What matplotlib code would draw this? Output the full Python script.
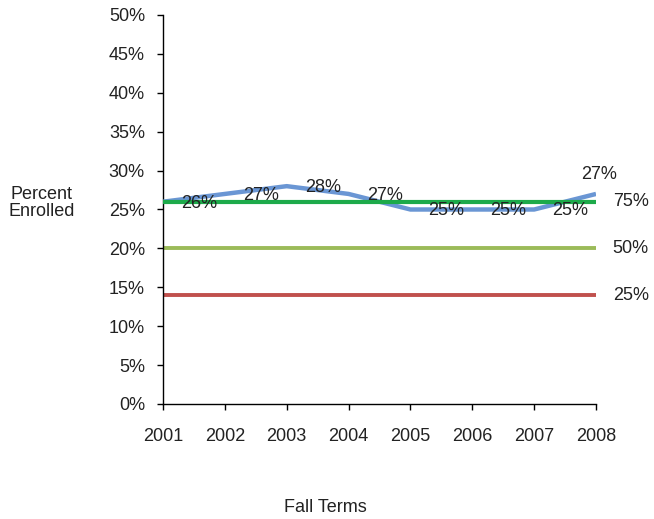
import matplotlib.pyplot as plt
import numpy as np

years = ['2001', '2002', '2003', '2004', '2005', '2006', '2007', '2008']
enrolled = [26, 27, 28, 27, 25, 25, 25, 27]
pct75 = 26
pct50 = 20
pct25 = 14
y_ticks = [0, 5, 10, 15, 20, 25, 30, 35, 40, 45, 50]

plt.rcParams['font.family'] = ['Liberation Sans', 'DejaVu Sans']
txt = '#222222'
fs = 13

fig = plt.figure(figsize=(6.54, 5.19), dpi=100)
ax = fig.add_axes([163 / 654, 1 - 404 / 519, (596 - 163) / 654, (404 - 15) / 519])

x = np.arange(len(years))
ax.axhline(pct25, color='#C0504D', lw=2.8, zorder=2)
ax.axhline(pct50, color='#9BBB59', lw=2.8, zorder=2)
ax.axhline(pct75, color='#1DAA4A', lw=3, zorder=4)
ax.plot(x, enrolled, color='#6A96D4', lw=3.2, zorder=3, solid_capstyle='butt')

for i, v in enumerate(enrolled):
    if i == len(enrolled) - 1:
        ax.annotate(f'{v}%', (x[i], v), xytext=(2, 14), textcoords='offset points',
                    ha='center', va='center', fontsize=fs, color=txt, zorder=5)
    else:
        ax.annotate(f'{v}%', (x[i], v), xytext=(13, -1), textcoords='offset points',
                    ha='left', va='center', fontsize=fs, color=txt, zorder=5)

for val, lab in [(pct75, '75%'), (pct50, '50%'), (pct25, '25%')]:
    ax.annotate(lab, (x[-1], val), xytext=(12, 0), textcoords='offset points',
                ha='left', va='center', fontsize=fs, color=txt, annotation_clip=False)

ax.set_xlim(0, len(years) - 1)
ax.set_ylim(0, 50)
ax.set_xticks(x)
ax.set_xticklabels(years)
ax.set_yticks(y_ticks)
ax.set_yticklabels([f'{t}%' for t in y_ticks])
ax.tick_params(labelsize=fs, length=4, width=1, labelcolor=txt)
ax.tick_params(axis='x', pad=13)
ax.tick_params(axis='y', pad=9)
for s in ['top', 'right']:
    ax.spines[s].set_visible(False)
for s in ['left', 'bottom']:
    ax.spines[s].set_linewidth(1)

fig.text(42 / 654, 1 - 203 / 519, 'Percent\nEnrolled', ha='center', va='center',
         fontsize=fs, color=txt, linespacing=1.05)
fig.text(325 / 654, 1 - 508 / 519, 'Fall Terms', ha='center', va='center',
         fontsize=fs, color=txt)

fig.savefig('out.png', dpi=100)
